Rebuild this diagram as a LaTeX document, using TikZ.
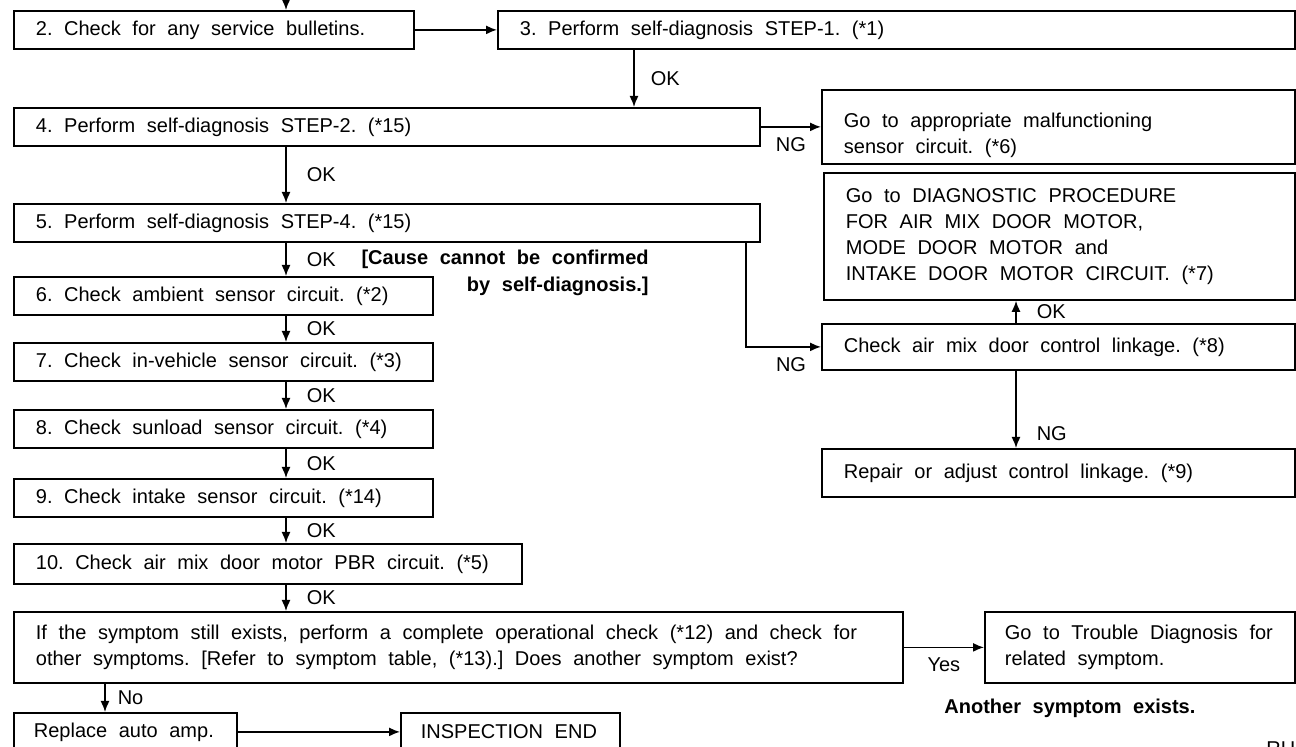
\documentclass[tikz,border=0pt]{standalone}
\usepackage{fontspec}
\setmainfont{Liberation Sans}
\usepackage{tikz}
\usetikzlibrary{arrows.meta,positioning}
\newcommand{\wordgap}{\frenchspacing\spaceskip=5.8pt plus 2pt minus 1.5pt\relax}
\tikzset{
  flowfont/.style={font=\fontsize{10pt}{13pt}\selectfont\wordgap},
  stepbox/.style={rectangle, draw=black, line width=0.9pt, anchor=north west, align=flush left, inner xsep=11pt, inner ysep=0pt},
  flowarr/.style={-{Latex[length=5.5pt,width=4.5pt]}, line width=0.75pt, draw=black},
  flbl/.style={inner sep=0pt},
  notebf/.style={font=\fontsize{10pt}{13.5pt}\selectfont\bfseries\wordgap, inner sep=0pt},
}

\begin{document}
\begin{tikzpicture}[x=0.5pt, y=-0.5pt, flowfont]
  \useasboundingbox (0,0) rectangle (1296,747);
  \coordinate (colA) at (286,0);
  \coordinate (colB) at (634,0);
  \coordinate (colC) at (1016,0);
  \coordinate (colD) at (746,0);
  \coordinate (colE) at (105,0);
  \node[stepbox, text width=178pt, minimum height=19pt] (s2) at (13,10) {2. Check for any service bulletins.};
  \node[stepbox, text width=376.5pt, minimum height=19pt] (s3) at (497,10) {3. Perform self-diagnosis STEP-1. (*1)};
  \node[stepbox, text width=351pt, minimum height=19pt] (s4) at (13,107) {4. Perform self-diagnosis STEP-2. (*15)};
  \node[stepbox, text width=214.5pt, minimum height=37pt, text height=15.5pt] (ng4) at (821,89) {Go to appropriate malfunctioning\\sensor circuit. (*6)};
  \node[stepbox, text width=351pt, minimum height=19pt] (s5) at (13,203) {5. Perform self-diagnosis STEP-4. (*15)};
  \node[stepbox, text width=213.5pt, minimum height=63.5pt] (diag) at (823,172) {Go to DIAGNOSTIC PROCEDURE\\FOR AIR MIX DOOR MOTOR,\\MODE DOOR MOTOR and\\INTAKE DOOR MOTOR CIRCUIT. (*7)};
  \node[stepbox, text width=187.5pt, minimum height=19pt] (s6) at (13,276) {6. Check ambient sensor circuit. (*2)};
  \node[stepbox, text width=214.5pt, minimum height=23pt] (link) at (821,323) {Check air mix door control linkage. (*8)};
  \node[stepbox, text width=187.5pt, minimum height=19pt] (s7) at (13,342) {7. Check in-vehicle sensor circuit. (*3)};
  \node[stepbox, text width=187.5pt, minimum height=19pt] (s8) at (13,409) {8. Check sunload sensor circuit. (*4)};
  \node[stepbox, text width=214.5pt, minimum height=24pt] (repair) at (821,448) {Repair or adjust control linkage. (*9)};
  \node[stepbox, text width=187.5pt, minimum height=19pt] (s9) at (13,478) {9. Check intake sensor circuit. (*14)};
  \node[stepbox, text width=232pt, minimum height=20pt] (s10) at (13,543) {10. Check air mix door motor PBR circuit. (*5)};
  \node[stepbox, text width=422.5pt, minimum height=35.5pt] (sym) at (13,611) {If the symptom still exists, perform a complete operational check (*12) and check for\\other symptoms. [Refer to symptom table, (*13).] Does another symptom exist?};
  \node[stepbox, text width=135pt, inner xsep=10pt, minimum height=35.5pt] (trouble) at (984,611) {Go to Trouble Diagnosis for\\related symptom.};
  \node[stepbox, text width=91.5pt, inner xsep=10pt, minimum height=19pt] (amp) at (13,712) {Replace auto amp.};
  \node[stepbox, text width=89.5pt, inner xsep=10pt, minimum height=19pt] (endbox) at (400,712) {INSPECTION END};
  \node[notebf, align=flush right, anchor=north east] (cause) at (649,250) {[Cause cannot be confirmed\\by self-diagnosis.]};
  \node[notebf, anchor=west] (another) at (944,708) {Another symptom exists.};
  \node[flbl, anchor=north west] (rh) at (1266,741) {RH};
  \draw[flowarr] (colA) -- (colA |- s2.north);
  \draw[flowarr] (s2) -- (s3);
  \draw[flowarr] (s3.south -| colB) -- node[flbl, right=8pt] {OK} (s4.north -| colB);
  \draw[flowarr] (s4) -- node[flbl, below=5pt] {NG} (ng4);
  \draw[flowarr] (s4.south -| colA) -- node[flbl, right=10pt] {OK} (s5.north -| colA);
  \draw[flowarr] (s5.south -| colA) -- node[flbl, right=10pt] {OK} (s6.north -| colA);
  \draw[flowarr] (s5.south -| colD) |- node[flbl, pos=0.8, below=5pt] {NG} (link.west);
  \draw[flowarr] (link.north -| colC) -- node[flbl, right=10pt] {OK} (diag.south -| colC);
  \draw[flowarr] (link.south -| colC) -- node[flbl, pos=0.82, right=10pt] {NG} (repair.north -| colC);
  \draw[flowarr] (s6.south -| colA) -- node[flbl, right=10pt] {OK} (s7.north -| colA);
  \draw[flowarr] (s7.south -| colA) -- node[flbl, right=10pt] {OK} (s8.north -| colA);
  \draw[flowarr] (s8.south -| colA) -- node[flbl, right=10pt] {OK} (s9.north -| colA);
  \draw[flowarr] (s9.south -| colA) -- node[flbl, right=10pt] {OK} (s10.north -| colA);
  \draw[flowarr] (s10.south -| colA) -- node[flbl, right=10pt] {OK} (sym.north -| colA);
  \draw[flowarr] (sym) -- node[flbl, below=5pt] {Yes} (trouble);
  \draw[flowarr] (sym.south -| colE) -- node[flbl, right=6pt] {No} (amp.north -| colE);
  \draw[flowarr] (amp) -- (endbox);
\end{tikzpicture}
\end{document}
